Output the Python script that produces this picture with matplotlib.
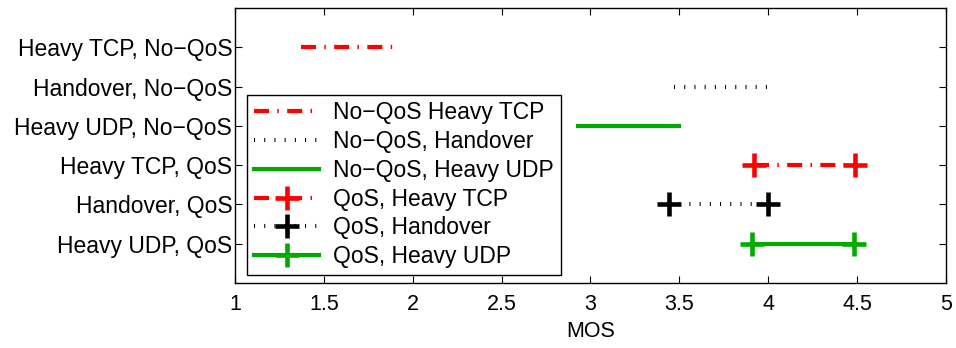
import matplotlib
matplotlib.use("Agg")
import matplotlib.pyplot as plt

plt.rcParams['font.family'] = ['Liberation Sans', 'DejaVu Sans']

categories = ['Heavy UDP, QoS', 'Handover, QoS', 'Heavy TCP, QoS',
              'Heavy UDP, No\u2212QoS', 'Handover, No\u2212QoS', 'Heavy TCP, No\u2212QoS']
ypos = [1, 2, 3, 4, 5, 6]

# MOS ranges (low, high) per series
nqos_tcp = [1.37, 1.89]
nqos_ho = [3.47, 4.00]
nqos_udp = [2.93, 3.50]
qos_tcp = [3.92, 4.49]
qos_ho = [3.44, 4.00]
qos_udp = [3.91, 4.48]

labels = ['No\u2212QoS Heavy TCP', 'No\u2212QoS, Handover', 'No\u2212QoS, Heavy UDP',
          'QoS, Heavy TCP', 'QoS, Handover', 'QoS, Heavy UDP']

red = '#ff0000'
green = '#00aa00'
dashdot = (0, (3.6, 2.0, 0.36, 2.0))
dotted = (0, (0.25, 2.2))
lw = 3

fig = plt.figure(figsize=(9.56, 3.48), dpi=100)
ax = fig.add_axes([0.2458, 0.187, 0.7437, 0.79])

ax.plot(nqos_tcp, [6, 6], color=red, lw=lw, linestyle=dashdot, dash_capstyle='butt', label=labels[0])
ax.plot(nqos_ho, [5, 5], color='black', lw=lw, linestyle=dotted, dash_capstyle='butt', label=labels[1])
ax.plot(nqos_udp, [4, 4], color=green, lw=lw, label=labels[2])
ax.plot(qos_tcp, [3, 3], color=red, lw=lw, linestyle=dashdot, dash_capstyle='butt',
        marker='+', ms=17, mew=3.3, label=labels[3])
ax.plot(qos_ho, [2, 2], color='black', lw=lw, linestyle=dotted, dash_capstyle='butt',
        marker='+', ms=17, mew=3.3, label=labels[4])
ax.plot(qos_udp, [1, 1], color=green, lw=lw, marker='+', ms=17, mew=3.3, label=labels[5])

ax.set_xlim(1, 5)
ax.set_ylim(0, 7)
ax.set_xticks([1, 1.5, 2, 2.5, 3, 3.5, 4, 4.5, 5])
ax.set_xticklabels(['1', '1.5', '2', '2.5', '3', '3.5', '4', '4.5', '5'])
ax.set_yticks(ypos)
ax.set_yticklabels(categories)
ax.tick_params(direction='in', top=True, right=True, length=5, width=0.8)
ax.tick_params(axis='x', pad=8, labelsize=15.5)
ax.tick_params(axis='y', pad=2, labelsize=16.5)
ax.set_xlabel('MOS', fontsize=15.5, labelpad=4)
for s in ax.spines.values():
    s.set_linewidth(1.0)

leg = ax.legend(loc='lower left', bbox_to_anchor=(0.017, 0.029), fontsize=16.5,
                handlelength=2.85, handletextpad=0.6, labelspacing=0.25,
                borderaxespad=0, borderpad=0.3, fancybox=False, framealpha=1)
leg.get_frame().set_edgecolor('black')
leg.get_frame().set_linewidth(1.0)

fig.savefig('out.png', dpi=100)
